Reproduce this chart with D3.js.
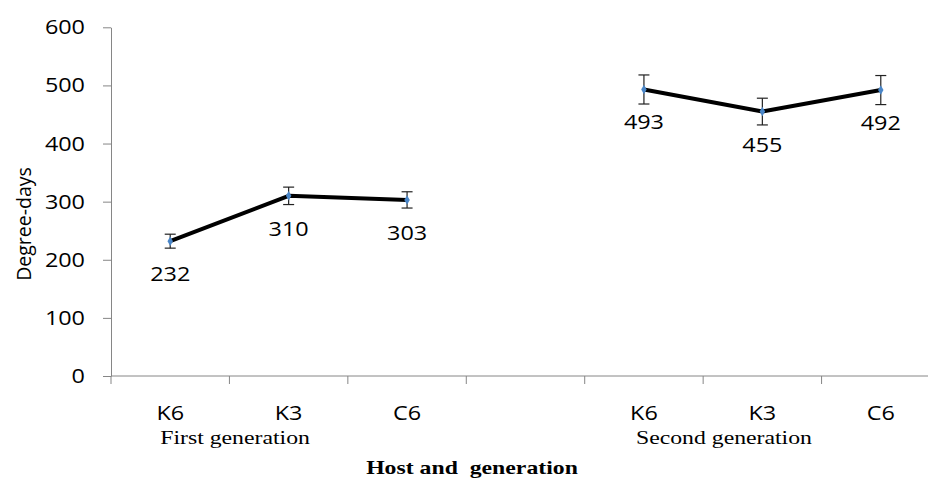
<!DOCTYPE html>
<html>
<head>
<meta charset="utf-8">
<script src="https://cdn.jsdelivr.net/npm/d3@7"></script>
<style>
  html, body { margin: 0; padding: 0; background: #fff; }
  svg { display: block; }
</style>
</head>
<body>
<svg id="chart"></svg>
<script>
const width = 928
const height = 479

// data
const hosts = ['K6', 'K3', 'C6', '', 'K6', 'K3', 'C6']
const generations = ['First generation', 'Second generation']
const firstGen = [232, 310, 303]
const firstErr = [12, 15, 14]
const secondGen = [493, 455, 492]
const secondErr = [25, 23, 25]
const yTicks = [0, 100, 200, 300, 400, 500, 600]

const sx = 1.2 // the source picture is stretched sideways

const svg = d3.select('#chart')
  .attr('width', width)
  .attr('height', height)

const x = d3.scaleBand()
  .domain(d3.range(hosts.length))
  .range([111, 940])

const y = d3.scaleLinear()
  .domain([0, 600])
  .range([376, 27.3])

const axisColor = '#868686'
const sans = '"Open Sans", "Noto Sans", sans-serif'
const serif = '"Liberation Serif", "Times New Roman", serif'

function label(g, txt, px, py, opts = {}) {
  return g.append('text')
    .attr('transform', `translate(${px},${py}) scale(${opts.scale || sx},1)`)
    .attr('text-anchor', opts.anchor || 'middle')
    .attr('font-family', opts.family || sans)
    .attr('font-size', opts.size || 19.5)
    .attr('font-weight', opts.weight || 'normal')
    .attr('fill', '#000')
    .text(txt)
}

// y axis
const yAxis = svg.append('g')
  .attr('transform', 'translate(111,0)')
  .call(d3.axisLeft(y).tickValues(yTicks).tickSize(8).tickFormat('').tickSizeOuter(0))
yAxis.select('.domain').attr('stroke', axisColor)
yAxis.selectAll('.tick line').attr('stroke', axisColor)

yTicks.forEach(t => label(svg, t, 85, y(t) + 7, { anchor: 'end' }))

// rotated y title
svg.append('text')
  .attr('transform', `translate(31,224) rotate(-90)`)
  .attr('text-anchor', 'middle')
  .attr('font-family', sans)
  .attr('font-size', 19.5)
  .text('Degree-days')

// x axis line + boundary ticks
svg.append('line')
  .attr('x1', x(0)).attr('x2', width)
  .attr('y1', y(0)).attr('y2', y(0))
  .attr('stroke', axisColor)

d3.range(hosts.length + 1).forEach(i => {
  const bx = x.range()[0] + i * x.step()
  svg.append('line')
    .attr('x1', bx).attr('x2', bx)
    .attr('y1', y(0)).attr('y2', y(0) + 8)
    .attr('stroke', axisColor)
})

const cx = i => x(i) + x.bandwidth() / 2

hosts.forEach((h, i) => {
  if (h) label(svg, h, cx(i), 420)
})

// group labels
label(svg, generations[0], cx(0) - 10, 444, { anchor: 'start', family: serif, size: 19, scale: 1.25 })
label(svg, generations[1], cx(4) - 8, 444, { anchor: 'start', family: serif, size: 19, scale: 1.25 })
label(svg, 'Host and  generation', 472, 474, { family: serif, size: 19, weight: 'bold', scale: 1.25 })
  .style('white-space', 'pre')

// series
const series = [
  { slots: [0, 1, 2], values: firstGen, errors: firstErr },
  { slots: [4, 5, 6], values: secondGen, errors: secondErr }
]

const line = d3.line()
  .x(d => cx(d.slot))
  .y(d => y(d.value))

series.forEach(s => {
  const pts = s.slots.map((slot, i) => ({ slot, value: s.values[i], err: s.errors[i] }))
  const g = svg.append('g')

  g.append('path')
    .datum(pts)
    .attr('d', line)
    .attr('fill', 'none')
    .attr('stroke', '#000')
    .attr('stroke-width', 4)
    .attr('stroke-linejoin', 'round')

  // error bars
  const eb = g.selectAll('g.err')
    .data(pts)
    .enter()
    .append('g')
    .attr('stroke', '#222')
    .attr('stroke-width', 1.2)
  eb.append('line')
    .attr('x1', d => cx(d.slot)).attr('x2', d => cx(d.slot))
    .attr('y1', d => y(d.value + d.err)).attr('y2', d => y(d.value - d.err))
  eb.append('line')
    .attr('x1', d => cx(d.slot) - 5.5).attr('x2', d => cx(d.slot) + 5.5)
    .attr('y1', d => y(d.value + d.err)).attr('y2', d => y(d.value + d.err))
  eb.append('line')
    .attr('x1', d => cx(d.slot) - 5.5).attr('x2', d => cx(d.slot) + 5.5)
    .attr('y1', d => y(d.value - d.err)).attr('y2', d => y(d.value - d.err))

  // diamond markers
  g.selectAll('path.marker')
    .data(pts)
    .enter()
    .append('path')
    .attr('d', d3.symbol().type(d3.symbolDiamond).size(26))
    .attr('transform', d => `translate(${cx(d.slot)},${y(d.value)})`)
    .attr('fill', '#4a86c8')

  pts.forEach(d => label(g, d.value, cx(d.slot), y(d.value) + 40))
})
</script>
</body>
</html>
